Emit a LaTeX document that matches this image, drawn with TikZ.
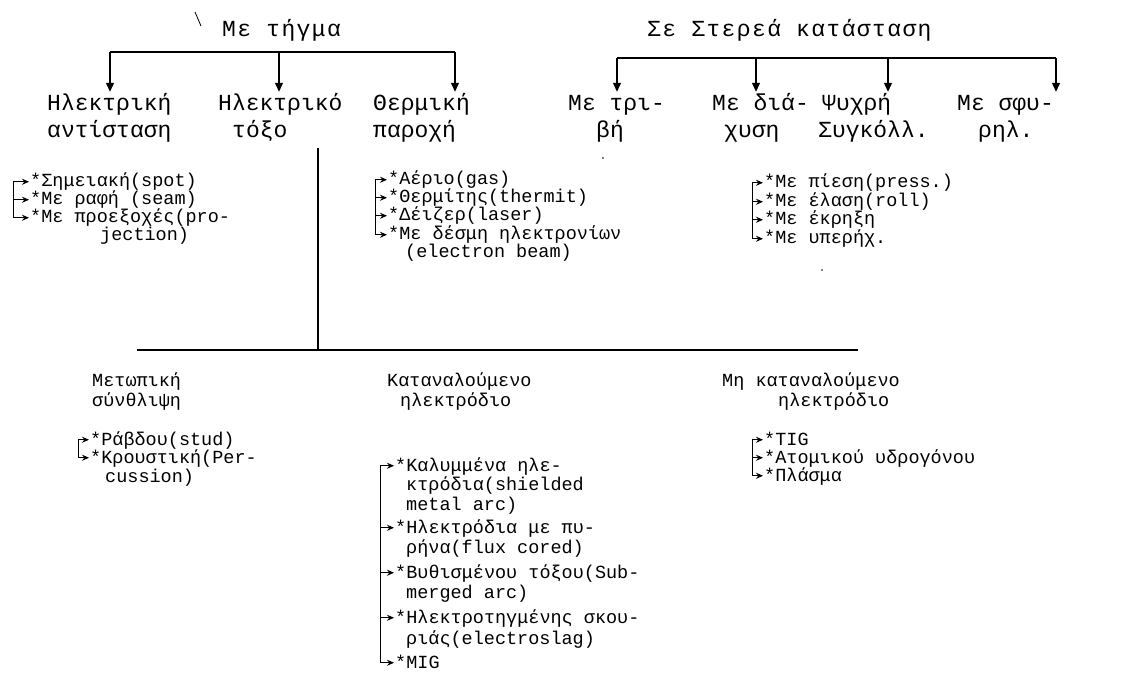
\documentclass[tikz,border=0pt]{standalone}
\usepackage{fontspec}
\newfontfamily\tw{Liberation Mono}
\usetikzlibrary{arrows.meta,calc}
\begin{document}
\begin{tikzpicture}[x=1pt,y=-1pt,
  big/.style={font=\tw\fontsize{23}{23}\selectfont, inner sep=0pt, anchor=base west, text height=13pt, text depth=0pt},
  hd/.style={font=\tw\fontsize{23}{23}\addfontfeature{LetterSpace=6}\selectfont, inner sep=0pt, anchor=base west},
  sml/.style={font=\tw\fontsize{18.5}{18.5}\selectfont, inner sep=0pt, anchor=base west, text height=10.5pt, text depth=0pt},
  bar/.style={line width=2pt},
  vln/.style={line width=1.4pt},
  darr/.style={line width=1.2pt, -{Triangle[length=9pt,width=8pt]}, shorten >=6pt},
  larr/.style={line width=1pt, -{Stealth[length=7pt,width=6pt]}, shorten >=1pt},
  brk/.style={line width=1pt}]
\useasboundingbox (0,0) rectangle (1125,679);
\fill[white] (0,0) rectangle (1125,679);

% stray marks of the scan
\draw[line width=0.8pt] (195,12) -- (201,26);
\fill (603,158) circle (0.9pt);
\fill (822,270) circle (0.9pt);

% ---------- Me tigma ----------
\node[hd] (T1) at (222,37) {Με τήγμα};
\node[big] (A1a) at (47,111) {Ηλεκτρική};
\node[big] (A1b) at (47,138) {αντίσταση};
\node[big] (A2a) at (218,111) {Ηλεκτρικό};
\node[big] (A2b) at (232,138) {τόξο};
\node[big] (A3a) at (373,111) {Θερμική};
\node[big] (A3b) at (373,138) {παροχή};
\coordinate (p11) at (110,52);
\coordinate (p12) at (279,52);
\coordinate (p13) at (455,52);
\draw[bar] (p11) -- (p13);
\draw[darr] (p11) -- (p11 |- A1a.north);
\draw[darr] (p12) -- (p12 |- A2a.north);
\draw[darr] (p13) -- (p13 |- A3a.north);

% ---------- Se sterea katastasi ----------
\node[hd] (T2) at (647,37) {Σε Στερεά κατάσταση};
\node[big] (B1a) at (568,111) {Με τρι-};
\node[big] (B1b) at (596,138) {βή};
\node[big] (B2a) at (712,111) {Με διά-};
\node[big] (B2b) at (724,138) {χυση};
\node[big] (B3a) at (822,111) {Ψυχρή};
\node[big] (B3b) at (818,138) {Συγκόλλ.};
\node[big] (B4a) at (957,111) {Με σφυ-};
\node[big] (B4b) at (978,138) {ρηλ.};
\coordinate (p21) at (617,58);
\coordinate (p22) at (756,58);
\coordinate (p23) at (888,58);
\coordinate (p24) at (1056,58);
\draw[bar] (p21) -- (p24);
\draw[darr] (p21) -- (p21 |- B1a.north);
\draw[darr] (p22) -- (p22 |- B2a.north);
\draw[darr] (p23) -- (p23 |- B3a.north);
\draw[darr] (p24) -- (p24 |- B4a.north);

% ---------- vertical from toxo and horizontal rule ----------
\coordinate (vt) at (318,148);
\coordinate (hl) at (137,350);
\coordinate (hr) at (858,350);
\draw[vln] (vt) -- (vt |- hl);
\draw[bar] (hl) -- (hr);

% ---------- left list ----------
\node[sml] (l1) at (30,187) {*Σημειακή(spot)};
\node[sml] (l2) at (30,205) {*Με ραφή (seam)};
\node[sml] (l3) at (30,223) {*Με προεξοχές(pro-};
\node[sml] (l3b) at (100,241) {jection)};
\coordinate (lb) at (13,0);
\draw[brk] (lb |- l1.west) -- (lb |- l3.west);
\foreach \n in {l1,l2,l3} \draw[larr] (lb |- \n.west) -- (\n.west);

% ---------- middle list ----------
\node[sml] (m1) at (388,185) {*Αέριο(gas)};
\node[sml] (m2) at (388,203) {*Θερμίτης(thermit)};
\node[sml] (m3) at (388,221) {*Δέιζερ(laser)};
\node[sml] (m4) at (388,240) {*Με δέσμη ηλεκτρονίων};
\node[sml] (m4b) at (405,258) {(electron beam)};
\coordinate (mb) at (375,0);
\draw[brk] (mb |- m1.west) -- (mb |- m4.west);
\foreach \n in {m1,m2,m3,m4} \draw[larr] (mb |- \n.west) -- (\n.west);

% ---------- right list ----------
\node[sml] (r1) at (764,188) {*Με πίεση(press.)};
\node[sml] (r2) at (764,207) {*Με έλαση(roll)};
\node[sml] (r3) at (764,225) {*Με έκρηξη};
\node[sml] (r4) at (764,244) {*Με υπερήχ.};
\coordinate (rb) at (752,0);
\draw[brk] (rb |- r1.west) -- (rb |- r4.west);
\foreach \n in {r1,r2,r3,r4} \draw[larr] (rb |- \n.west) -- (\n.west);

% ---------- bottom headings ----------
\node[sml] (H1a) at (92,386) {Μετωπική};
\node[sml] (H1b) at (92,406) {σύνθλιψη};
\node[sml] (H2a) at (387,386) {Καταναλούμενο};
\node[sml] (H2b) at (400,406) {ηλεκτρόδιο};
\node[sml] (H3a) at (722,386) {Μη καταναλούμενο};
\node[sml] (H3b) at (778,406) {ηλεκτρόδιο};

% ---------- stud list ----------
\node[sml] (s1) at (90,445) {*Ράβδου(stud)};
\node[sml] (s2) at (90,463) {*Κρουστική(Per-};
\node[sml] (s2b) at (105,482) {cussion)};
\coordinate (sb) at (78,0);
\draw[brk] (sb |- s1.west) -- (sb |- s2.west);
\foreach \n in {s1,s2} \draw[larr] (sb |- \n.west) -- (\n.west);

% ---------- consumable electrode list ----------
\node[sml] (c1) at (395,471) {*Καλυμμένα ηλε-};
\node[sml] (c1b) at (406,490) {κτρόδια(shielded};
\node[sml] (c1c) at (406,510) {metal arc)};
\node[sml] (c2) at (395,533) {*Ηλεκτρόδια με πυ-};
\node[sml] (c2b) at (406,553) {ρήνα(flux cored)};
\node[sml] (c3) at (395,578) {*Βυθισμένου τόξου(Sub-};
\node[sml] (c3b) at (406,598) {merged arc)};
\node[sml] (c4) at (395,623) {*Ηλεκτροτηγμένης σκου-};
\node[sml] (c4b) at (406,644) {ριάς(electroslag)};
\node[sml] (c5) at (395,668) {*MIG};
\coordinate (cb) at (380,0);
\draw[brk] (cb |- c1.west) -- (cb |- c5.west);
\foreach \n in {c1,c2,c3,c4,c5} \draw[larr] (cb |- \n.west) -- (\n.west);

% ---------- non consumable list ----------
\node[sml] (n1) at (764,445) {*TIG};
\node[sml] (n2) at (764,463) {*Ατομικού υδρογόνου};
\node[sml] (n3) at (764,481) {*Πλάσμα};
\coordinate (nb) at (752,0);
\draw[brk] (nb |- n1.west) -- (nb |- n3.west);
\foreach \n in {n1,n2,n3} \draw[larr] (nb |- \n.west) -- (\n.west);
\end{tikzpicture}
\end{document}
